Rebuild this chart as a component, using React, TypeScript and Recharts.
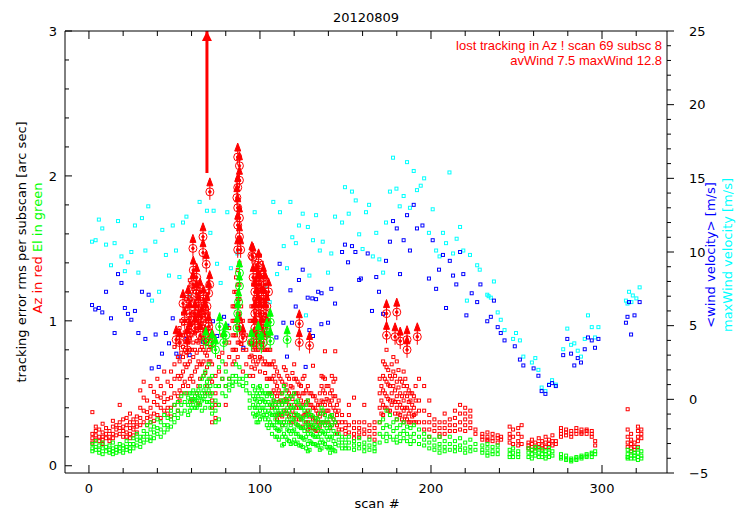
import React from "react";
import { ComposedChart, Scatter, XAxis, YAxis, ReferenceLine } from "recharts";

const W = 747;
const H = 525;

const RED = "#ff0000";
const GREEN = "#00ff00";
const BLUE = "#0000ff";
const CYAN = "#00ffff";

const title = "20120809";
const note1 = "lost tracking in Az ! scan 69 subsc 8";
const note2 = "avWind 7.5 maxWind 12.8";

const xTicks = [0, 20, 40, 60, 80, 100, 120, 140, 160, 180, 200, 220, 240, 260, 280, 300, 320];
const leftTicks = [0, 0.2, 0.4, 0.6, 0.8, 1, 1.2, 1.4, 1.6, 1.8, 2, 2.2, 2.4, 2.6, 2.8, 3];
const rightTicks = [
  -5, -4, -3, -2, -1, 0, 1, 2, 3, 4, 5, 6, 7, 8, 9, 10, 11, 12, 13, 14, 15,
  16, 17, 18, 19, 20, 21, 22, 23, 24, 25,
];

// Az rms per subscan, grouped by scan number
const azByScan: [number, number[]][] = [
  [2, [0.37, 0.22, 0.19, 0.16]], [4, [0.27, 0.24, 0.21, 0.18]], [6, [0.25, 0.2, 0.17]],
  [8, [0.29, 0.23, 0.2, 0.18, 0.15]], [10, [0.26, 0.22, 0.19]], [12, [0.24, 0.2, 0.17]],
  [14, [0.31, 0.27, 0.22, 0.19]], [16, [0.28, 0.25, 0.21]], [18, [0.42, 0.3, 0.26, 0.22]],
  [20, [0.32, 0.27, 0.24, 0.2]], [22, [0.33, 0.28, 0.23, 0.2]], [24, [0.36, 0.3, 0.26, 0.22, 0.19]],
  [26, [0.32, 0.28, 0.25, 0.21]], [28, [0.34, 0.3, 0.27, 0.23]], [30, [0.52, 0.4, 0.33, 0.28]],
  [32, [0.58, 0.47, 0.38, 0.3]], [34, [0.45, 0.37, 0.33, 0.28]], [36, [0.55, 0.4, 0.34, 0.3]],
  [38, [0.51, 0.44, 0.36, 0.31]], [40, [0.6, 0.48, 0.42, 0.35]], [42, [0.55, 0.47, 0.4, 0.33]],
  [44, [0.65, 0.5, 0.44, 0.38]], [46, [0.58, 0.46, 0.4, 0.36]], [48, [0.65, 0.55, 0.47, 0.4, 0.34]],
  [50, [0.82, 0.7, 0.6, 0.5, 0.42]], [52, [0.88, 0.75, 0.62, 0.48, 0.38]],
  [53, [0.95, 0.85, 0.72, 0.6, 0.52, 0.45]],
  [54, [1.0, 0.9, 0.78, 0.62, 0.5]], [55, [1.05, 0.98, 0.9, 0.82, 0.75, 0.65, 0.55]],
  [56, [1.1, 1.0, 0.92, 0.8, 0.7, 0.58]], [57, [1.15, 1.08, 1.0, 0.93, 0.86, 0.78, 0.68, 0.5]],
  [58, [1.2, 1.1, 1.0, 0.95, 0.85, 0.7, 0.55]], [59, [1.28, 1.18, 1.1, 1.02, 0.95, 0.88, 0.8, 0.72, 0.6]],
  [60, [1.25, 1.15, 1.05, 0.98, 0.9, 0.8, 0.62, 0.45]], [61, [1.32, 1.22, 1.14, 1.06, 0.99, 0.92, 0.85, 0.75, 0.58]],
  [62, [1.3, 1.2, 1.1, 1.02, 0.92, 0.8, 0.65]], [63, [1.25, 1.17, 1.08, 1.0, 0.93, 0.86, 0.78, 0.68, 0.5]],
  [64, [1.22, 1.12, 1.05, 0.95, 0.85, 0.72, 0.55, 0.43]], [65, [1.2, 1.1, 1.02, 0.95, 0.88, 0.8, 0.7, 0.6]],
  [66, [1.15, 1.05, 0.98, 0.9, 0.82, 0.7]], [67, [1.12, 1.04, 0.96, 0.88, 0.8, 0.72, 0.62]],
  [68, [1.1, 1.0, 0.92, 0.85, 0.78, 0.64, 0.5]], [69, [1.08, 1.0, 0.92, 0.84, 0.76, 0.68, 0.55]],
  [70, [1.05, 0.95, 0.88, 0.8, 0.72]], [71, [0.98, 0.9, 0.82, 0.72, 0.6, 0.5]],
  [72, [0.7, 0.58, 0.45, 0.4, 0.3]], [74, [0.62, 0.5, 0.42, 0.33]],
  [76, [0.75, 0.65, 0.55, 0.42]], [78, [0.9, 0.78, 0.6]], [80, [0.85, 0.7, 0.55, 0.42]],
  [82, [0.95, 0.85, 0.75, 0.6]], [84, [1.1, 1.0, 0.9, 0.8, 0.7]], [85, [1.2, 1.1, 1.0, 0.9, 0.8, 0.72]],
  [86, [1.3, 1.2, 1.1, 1.0, 0.9, 0.8]], [87, [1.35, 1.25, 1.15, 1.05, 0.95, 0.85, 0.75]],
  [88, [1.4, 1.25, 1.15, 1.05, 0.95, 0.85]], [89, [1.1, 1.0, 0.92, 0.84]],
  [90, [1.0, 0.9, 0.8, 0.65]], [92, [0.9, 0.8, 0.7]],
  [94, [1.0, 0.85, 0.75, 0.62]], [95, [1.1, 1.0, 0.92, 0.84, 0.76, 0.68]],
  [96, [1.25, 1.1, 1.0, 0.9, 0.8, 0.72, 0.62]], [97, [1.35, 1.25, 1.15, 1.07, 0.99, 0.91, 0.83, 0.75, 0.67]],
  [98, [1.4, 1.3, 1.2, 1.1, 1.0, 0.9, 0.8, 0.7]], [99, [1.45, 1.37, 1.28, 1.2, 1.12, 1.04, 0.96, 0.88, 0.8, 0.72]],
  [100, [1.45, 1.35, 1.25, 1.15, 1.05, 0.95, 0.85, 0.75, 0.65]],
  [101, [1.4, 1.3, 1.22, 1.14, 1.06, 0.98, 0.9, 0.82, 0.74]],
  [102, [1.3, 1.2, 1.1, 1.0, 0.9, 0.8, 0.7]], [103, [1.2, 1.12, 1.04, 0.96, 0.88, 0.8, 0.72, 0.64]],
  [104, [1.1, 1.0, 0.9, 0.8, 0.7, 0.6]], [105, [1.0, 0.9, 0.8, 0.7, 0.6, 0.5]],
  [106, [0.8, 0.7, 0.6, 0.5, 0.42]], [107, [0.7, 0.6, 0.5, 0.4]], [108, [0.72, 0.62, 0.52, 0.45]],
  [109, [0.68, 0.58, 0.5, 0.42, 0.35]], [110, [0.65, 0.55, 0.48, 0.4, 0.32]], [111, [0.62, 0.52, 0.44, 0.36]],
  [112, [0.6, 0.5, 0.45, 0.35]], [113, [0.58, 0.5, 0.42, 0.34, 0.28]], [114, [0.68, 0.55, 0.45, 0.38, 0.3]],
  [115, [0.66, 0.56, 0.46, 0.38]], [116, [0.62, 0.52, 0.45, 0.36]], [117, [0.6, 0.5, 0.42, 0.34]],
  [118, [0.55, 0.48, 0.4, 0.3]], [119, [0.64, 0.54, 0.46, 0.38, 0.3]], [120, [0.7, 0.6, 0.5, 0.42, 0.35]],
  [121, [0.6, 0.5, 0.4, 0.32]], [122, [0.58, 0.5, 0.42, 0.35, 0.28]], [123, [0.56, 0.48, 0.4, 0.32]],
  [124, [0.55, 0.45, 0.4, 0.32]], [125, [0.6, 0.5, 0.42, 0.34, 0.27]], [126, [0.62, 0.5, 0.42, 0.35]],
  [127, [0.52, 0.44, 0.36, 0.3]], [128, [0.55, 0.45, 0.38, 0.3, 0.25]], [129, [0.5, 0.42, 0.34, 0.27]],
  [130, [0.5, 0.42, 0.35, 0.28]], [131, [0.69, 0.48, 0.4, 0.32, 0.26]], [132, [0.48, 0.4, 0.33, 0.25]],
  [133, [0.45, 0.38, 0.3, 0.24]], [134, [0.42, 0.36, 0.3, 0.24]], [135, [0.5, 0.42, 0.34, 0.27]],
  [136, [0.62, 0.55, 0.45, 0.38, 0.3]], [137, [0.61, 0.52, 0.44, 0.36, 0.3]],
  [138, [0.79, 0.6, 0.5, 0.42, 0.35, 0.28]], [139, [0.55, 0.46, 0.38, 0.3]],
  [140, [0.55, 0.45, 0.38, 0.3]], [141, [0.5, 0.42, 0.34, 0.26]], [142, [0.62, 0.52, 0.45, 0.35, 0.28]],
  [143, [0.58, 0.48, 0.4, 0.32]], [144, [0.79, 0.6, 0.48, 0.38, 0.3]], [145, [0.42, 0.35, 0.28, 0.22]],
  [146, [0.45, 0.38, 0.3, 0.25]], [148, [0.35, 0.3, 0.25]], [150, [0.3, 0.26, 0.22]],
  [152, [0.42, 0.35, 0.28, 0.23]], [155, [0.47, 0.3, 0.26, 0.22, 0.19]], [158, [0.3, 0.26, 0.23, 0.2]],
  [161, [0.42, 0.3, 0.25, 0.22]], [164, [0.28, 0.24, 0.2]], [167, [0.3, 0.26, 0.22, 0.18]],
  [170, [0.6, 0.5, 0.4, 0.3]], [171, [0.55, 0.45, 0.36]], [172, [0.72, 0.62, 0.52, 0.42, 0.35]],
  [173, [0.7, 0.6, 0.5, 0.4]], [174, [0.8, 0.68, 0.58, 0.48, 0.4]], [175, [0.66, 0.56, 0.46, 0.38]],
  [176, [0.62, 0.55, 0.45, 0.38]], [177, [0.7, 0.6, 0.5, 0.42]], [178, [0.75, 0.65, 0.55, 0.45]],
  [179, [0.62, 0.52, 0.44, 0.36]], [180, [0.72, 0.58, 0.48, 0.4, 0.32]], [181, [0.66, 0.54, 0.44, 0.36]],
  [182, [0.6, 0.5, 0.42, 0.35]], [183, [0.58, 0.48, 0.4, 0.32]], [184, [0.65, 0.55, 0.45, 0.38, 0.3]],
  [185, [0.6, 0.5, 0.4, 0.34]], [186, [0.55, 0.48, 0.4, 0.32]], [187, [0.52, 0.44, 0.36, 0.3]],
  [188, [0.5, 0.45, 0.38, 0.3]], [189, [0.5, 0.42, 0.34]], [190, [0.48, 0.4, 0.35, 0.3]],
  [191, [0.55, 0.45, 0.36, 0.3]], [193, [0.6, 0.45, 0.38, 0.3]],
  [196, [0.55, 0.38, 0.3, 0.25]], [199, [0.45, 0.35, 0.3, 0.25, 0.2]], [202, [0.32, 0.28, 0.24]],
  [205, [0.3, 0.26, 0.22, 0.2]], [208, [0.36, 0.3, 0.26, 0.22]], [211, [0.32, 0.28, 0.24]],
  [214, [0.38, 0.33, 0.28, 0.24]], [217, [0.42, 0.36, 0.3, 0.25]], [220, [0.4, 0.36, 0.32, 0.28, 0.24]],
  [223, [0.38, 0.34, 0.3, 0.26]], [226, [0.25, 0.22]], [230, [0.22, 0.2, 0.18]],
  [233, [0.23, 0.2, 0.18, 0.17]], [236, [0.22, 0.19, 0.17]], [239, [0.21, 0.19, 0.16]], [241, [0.2, 0.18]],
  [246, [0.27, 0.22, 0.19, 0.16]], [248, [0.25, 0.2, 0.15]], [251, [0.26, 0.22, 0.17, 0.14]],
  [253, [0.28, 0.2, 0.15]], [257, [0.16, 0.14, 0.12]], [259, [0.18, 0.15, 0.13, 0.11]],
  [261, [0.16, 0.13, 0.12]], [263, [0.19, 0.15, 0.13]], [265, [0.17, 0.14, 0.12]], [267, [0.2, 0.16, 0.13]],
  [269, [0.18, 0.15, 0.13]], [271, [0.21, 0.17, 0.14]], [273, [0.17, 0.15]], [276, [0.26, 0.24, 0.22, 0.2]],
  [279, [0.25, 0.23, 0.21]], [282, [0.24, 0.22, 0.2]], [285, [0.26, 0.24, 0.22]], [288, [0.25, 0.23, 0.22]],
  [291, [0.25, 0.24, 0.22]], [294, [0.24, 0.22, 0.2]], [296, [0.17, 0.14]],
  [315, [0.39, 0.25, 0.2, 0.16, 0.13]], [317, [0.22, 0.18, 0.15, 0.12, 0.1]], [319, [0.16, 0.13, 0.11]],
  [321, [0.27, 0.24, 0.2, 0.17, 0.13]], [323, [0.25, 0.22, 0.19]],
];

// El rms per subscan, grouped by scan number
const elByScan: [number, number[]][] = [
  [2, [0.15, 0.12, 0.1]], [4, [0.17, 0.13, 0.11]], [6, [0.14, 0.11, 0.09]], [8, [0.16, 0.12, 0.08]],
  [10, [0.13, 0.1]], [12, [0.14, 0.11, 0.09]], [14, [0.16, 0.12, 0.1, 0.08]], [16, [0.13, 0.11, 0.09]],
  [18, [0.15, 0.12, 0.1]], [20, [0.14, 0.12, 0.09]], [22, [0.17, 0.13, 0.11]], [24, [0.15, 0.12, 0.1]],
  [26, [0.19, 0.15, 0.12]], [28, [0.22, 0.18, 0.14]], [30, [0.2, 0.17, 0.13]], [32, [0.24, 0.2, 0.16]],
  [34, [0.28, 0.22, 0.18]], [36, [0.3, 0.25, 0.2, 0.17]], [38, [0.27, 0.23, 0.19]], [40, [0.32, 0.26, 0.22]],
  [42, [0.3, 0.25, 0.2]], [44, [0.35, 0.28, 0.23]], [46, [0.33, 0.28, 0.25]], [48, [0.38, 0.32, 0.27]],
  [50, [0.42, 0.35, 0.3]], [52, [0.44, 0.38, 0.33]], [54, [0.48, 0.42, 0.36]], [56, [0.5, 0.44, 0.38]],
  [58, [0.47, 0.42, 0.35]], [59, [0.5, 0.44, 0.38]], [60, [0.5, 0.46, 0.4]], [61, [0.52, 0.46, 0.42]],
  [62, [0.48, 0.45, 0.4]], [63, [0.5, 0.45, 0.4]], [64, [0.52, 0.47, 0.42]], [65, [0.55, 0.48, 0.42]],
  [66, [0.6, 0.5, 0.45, 0.38]], [67, [0.62, 0.52, 0.46]], [68, [0.65, 0.55, 0.48, 0.4]],
  [69, [0.58, 0.5, 0.44]], [70, [0.7, 0.6, 0.52, 0.44]], [71, [0.55, 0.48, 0.4]],
  [72, [0.62, 0.5, 0.42, 0.36]], [74, [0.55, 0.45, 0.38, 0.3]], [76, [0.68, 0.55, 0.42, 0.32]],
  [78, [0.72, 0.6, 0.5]], [80, [0.65, 0.55, 0.48]], [82, [0.6, 0.56, 0.52]], [84, [0.62, 0.58, 0.55]],
  [86, [0.7, 0.62, 0.58]], [88, [0.68, 0.6, 0.56]], [90, [0.6, 0.55]], [92, [0.62, 0.57, 0.52]],
  [94, [0.5, 0.45, 0.4]], [96, [0.55, 0.48, 0.42, 0.36]], [97, [0.52, 0.46, 0.4, 0.34]],
  [98, [0.5, 0.45, 0.4, 0.35, 0.3]], [99, [0.54, 0.48, 0.42, 0.36, 0.3]],
  [100, [0.55, 0.5, 0.44, 0.38, 0.32]], [101, [0.52, 0.46, 0.4, 0.34]], [102, [0.5, 0.45, 0.4, 0.35]],
  [103, [0.5, 0.44, 0.38, 0.32]], [104, [0.55, 0.48, 0.42, 0.35, 0.28]], [105, [0.5, 0.44, 0.38, 0.32, 0.26]],
  [106, [0.5, 0.42, 0.36, 0.3]], [107, [0.48, 0.42, 0.35, 0.28, 0.22]], [108, [0.45, 0.4, 0.35, 0.28]],
  [109, [0.44, 0.38, 0.32, 0.26, 0.2]], [110, [0.4, 0.35, 0.3, 0.25, 0.2]],
  [111, [0.42, 0.36, 0.3, 0.24, 0.18]], [112, [0.45, 0.38, 0.3, 0.25]],
  [113, [0.5, 0.42, 0.35, 0.28, 0.2, 0.14]], [114, [0.55, 0.45, 0.38, 0.3, 0.22, 0.15]],
  [115, [0.52, 0.44, 0.36, 0.28, 0.2]], [116, [0.48, 0.4, 0.32, 0.25, 0.18]],
  [117, [0.46, 0.38, 0.3, 0.24, 0.17]], [118, [0.42, 0.35, 0.28, 0.22, 0.15]],
  [119, [0.48, 0.4, 0.32, 0.24, 0.16]], [120, [0.5, 0.4, 0.32, 0.25, 0.18]],
  [121, [0.44, 0.36, 0.29, 0.22, 0.15]], [122, [0.45, 0.35, 0.28, 0.22, 0.16]],
  [123, [0.42, 0.34, 0.27, 0.2, 0.14]], [124, [0.4, 0.32, 0.26, 0.2, 0.14]],
  [125, [0.4, 0.33, 0.26, 0.19, 0.13]], [126, [0.38, 0.3, 0.24, 0.18]],
  [127, [0.42, 0.34, 0.27, 0.2, 0.12]], [128, [0.45, 0.35, 0.28, 0.22, 0.15, 0.1]],
  [129, [0.38, 0.3, 0.24, 0.17, 0.11]], [130, [0.35, 0.28, 0.22, 0.16]], [131, [0.34, 0.27, 0.21, 0.15]],
  [132, [0.3, 0.25, 0.2, 0.15]], [133, [0.33, 0.27, 0.2, 0.14]], [134, [0.32, 0.26, 0.2, 0.14]],
  [135, [0.36, 0.28, 0.22, 0.16, 0.11]], [136, [0.4, 0.3, 0.24, 0.18, 0.12]],
  [137, [0.38, 0.3, 0.23, 0.16]], [138, [0.35, 0.28, 0.22, 0.15]], [139, [0.32, 0.26, 0.2, 0.13]],
  [140, [0.3, 0.24, 0.18, 0.12]], [141, [0.34, 0.27, 0.2, 0.13, 0.09]], [142, [0.35, 0.28, 0.2, 0.12]],
  [143, [0.32, 0.24, 0.17, 0.11]], [144, [0.3, 0.22, 0.15, 0.1]],
  [146, [0.22, 0.18, 0.14]], [148, [0.2, 0.16, 0.12]], [150, [0.18, 0.14, 0.12]], [152, [0.2, 0.16, 0.12]],
  [155, [0.17, 0.14, 0.11]], [158, [0.19, 0.15, 0.12]], [161, [0.16, 0.13, 0.1]], [164, [0.18, 0.14, 0.11]],
  [167, [0.15, 0.12, 0.1]], [170, [0.3, 0.22, 0.16]], [172, [0.32, 0.26, 0.2]], [174, [0.38, 0.28, 0.22, 0.17]],
  [176, [0.35, 0.27, 0.2]], [178, [0.3, 0.24, 0.18]], [180, [0.32, 0.26, 0.2, 0.16]], [182, [0.28, 0.22, 0.17]],
  [184, [0.3, 0.24, 0.19]], [186, [0.27, 0.22, 0.17]], [188, [0.26, 0.2, 0.15]], [190, [0.28, 0.22, 0.17]],
  [193, [0.25, 0.2, 0.15]], [196, [0.22, 0.18, 0.14]], [199, [0.2, 0.16, 0.12]], [202, [0.18, 0.14, 0.11]],
  [205, [0.2, 0.15, 0.12, 0.09]], [208, [0.17, 0.13, 0.1]], [211, [0.2, 0.15, 0.11]], [214, [0.17, 0.13, 0.1]],
  [217, [0.19, 0.14, 0.11]], [220, [0.16, 0.12, 0.09]], [223, [0.18, 0.13, 0.1]], [226, [0.15, 0.11]],
  [230, [0.14, 0.11, 0.09]], [233, [0.15, 0.12, 0.09, 0.07]], [236, [0.13, 0.1, 0.08]], [239, [0.14, 0.11, 0.08]],
  [246, [0.11, 0.08, 0.06]], [248, [0.12, 0.09, 0.06]], [251, [0.1, 0.08, 0.06]], [257, [0.12, 0.09, 0.06]],
  [259, [0.11, 0.08, 0.05]], [261, [0.13, 0.1, 0.07]], [263, [0.12, 0.09, 0.06]], [265, [0.11, 0.08, 0.06]],
  [267, [0.1, 0.08, 0.05]], [269, [0.12, 0.09, 0.06]], [271, [0.1, 0.07]], [276, [0.08, 0.06, 0.05]],
  [279, [0.07, 0.05, 0.04]], [282, [0.05, 0.04, 0.03]], [285, [0.06, 0.05, 0.04]], [288, [0.07, 0.06, 0.05]],
  [291, [0.08, 0.07, 0.06]], [294, [0.09, 0.08, 0.06]], [296, [0.1, 0.08]], [315, [0.11, 0.08, 0.06, 0.05]],
  [317, [0.1, 0.07, 0.05]], [319, [0.09, 0.07, 0.05]], [321, [0.12, 0.09, 0.06, 0.04]], [323, [0.1, 0.07, 0.05]],
];

// subscans flagged as lost tracking (scan, rms)
const azFlagged: [number, number][] = [
  [51, 0.87], [53, 0.85], [55, 1.12], [56, 1.0], [57.5, 0.87], [57.5, 0.8], [58, 1.15], [59, 1.05],
  [59, 0.92], [60.8, 1.5], [60.8, 1.25], [61, 1.35], [62, 1.05], [62.8, 1.19], [62, 0.95], [63, 1.3],
  [64, 1.1], [64, 0.98], [65, 0.9], [65, 1.2], [66, 1.02], [66.7, 1.58], [66.7, 1.47], [67, 1.15],
  [68.6, 1.39], [68, 1.05], [68, 0.88], [69, 1.1], [70.6, 1.25], [70.7, 1.89], [70, 0.96], [70, 1.19],
  [72, 0.85], [86.5, 1.85], [87, 2.13], [87, 1.92], [87, 1.78], [87, 1.66], [87, 1.49], [88, 2.07],
  [88, 1.97], [88, 1.71], [88, 1.58], [88.7, 1.49], [88, 0.96], [90, 0.88], [95.3, 1.45], [95.9, 1.44],
  [96, 1.3], [96, 0.85], [97, 1.2], [97, 0.95], [97, 1.05], [98, 1.3], [98, 1.15], [98, 0.85],
  [99.2, 1.4], [99, 1.1], [99, 1.25], [100, 1.25], [100, 0.9], [100, 1.05], [101, 1.15], [101, 0.95],
  [102, 1.3], [102, 1.15], [102, 0.85], [103, 1.05], [103, 1.25], [104, 0.95], [104, 1.1], [105, 1.2],
  [123, 0.98], [123, 0.85], [129, 0.83], [174, 1.05], [180, 1.06], [174, 0.9], [179, 0.89], [182, 0.86],
  [186, 0.87], [186, 0.8], [192, 0.89],
];
const elFlagged: [number, number][] = [
  [68.3, 0.86], [72, 0.84], [74, 0.8], [76.4, 0.96], [78.8, 0.85], [80, 0.9], [86.6, 0.95], [87, 1.05],
  [87.5, 1.13], [88, 1.24], [88, 1.33], [95, 0.85], [99, 0.9], [100.8, 0.83], [106, 0.99], [106, 0.86],
  [104, 0.92], [115.9, 0.87],
];

// lost tracking arrow, scan 69
const lostScan = 69;
const lostFrom = 2.02;
const lostTo = 3;

// <wind velocity> per scan (m/s)
const avWind: [number, number][] = [
  [1.8, 6.4], [3.7, 6.1], [5.8, 6.2], [7.8, 5.9], [10, 7.3], [12.9, 5.5], [15, 4.5], [17, 8.5], [19, 7.9],
  [21, 6.2], [22.8, 5.8], [24.8, 5.4], [26.9, 6.0], [28.9, 4.5], [31, 7.3], [33, 4.1], [34.9, 7.1],
  [36.7, 2.1], [39, 4.4], [40.8, 2.2], [42.7, 3.1], [45, 4.5], [46.8, 3.8], [49, 5.5], [51.1, 3.1],
  [53, 2.9], [57, 4.1], [58.9, 3.0], [66.7, 3.9], [72.5, 5.3], [75, 4.3], [79, 5.6], [80.9, 5.0],
  [90.3, 3.5], [95.5, 3.8], [109.6, 4.2], [111.5, 9.2], [113.7, 5.2], [115.8, 2.9], [117.8, 7.4],
  [118.7, 5.2], [120.9, 6.3], [122.8, 8.1], [125, 8.8], [126.7, 2.2], [127.9, 6.9], [128.9, 4.7],
  [130.6, 6.85], [131, 4.3], [132.8, 6.8], [134, 7.3], [136, 7.2], [135.9, 5.1], [139.8, 5.2],
  [141.7, 7.5], [143.9, 6.5], [148, 10.0], [149.7, 10.5], [151.5, 9.3], [153.8, 10.4], [155.8, 10.0],
  [158, 8.1], [159, 8.2], [163, 9.9], [165.5, 6.0], [168, 8.3], [169.6, 7.3], [172, 5.8], [173.7, 9.4],
  [176, 10.7], [177.8, 12.1], [180, 11.6], [181.9, 8.5], [184, 10.8], [186, 12.5], [187.7, 10.1],
  [189.9, 13.2], [191.8, 11.6], [195, 11.8], [198.8, 8.2], [201, 10.8], [203, 7.5], [204.7, 8.8],
  [207, 9.8], [208.8, 6.2], [211, 9.4], [212.9, 8.4], [214.8, 7.8], [217, 10.0], [218.9, 8.5],
  [220.7, 5.7], [223.8, 7.2], [227, 6.6], [228.9, 7.8], [232.9, 5.3], [235, 5.6], [236.8, 6.7],
  [239, 4.9], [240.8, 4.5], [243, 4.0], [249, 3.6], [252, 2.7], [254, 2.3], [260, 2.1], [262.8, 1.6],
  [264.7, 0.56], [266.9, 0.37], [269, 0.97], [270.8, 1.1], [273, 0.9], [277.3, 3.0], [279.7, 4.1],
  [281.9, 3.1], [283.8, 2.3], [285.8, 2.8], [287.7, 2.5], [289.9, 3.4], [291.8, 4.2], [294, 4.0],
  [295.9, 3.5], [297.9, 4.1], [314, 5.2], [314.9, 5.6], [315.8, 6.6], [317, 4.4], [319, 5.7], [322, 6.6],
];

// maxWind velocity per scan (m/s)
const maxWind: [number, number][] = [
  [1.8, 10.7], [3.9, 10.8], [5.8, 12.2], [7.8, 11.6], [10, 10.5], [12.9, 9.1], [15, 10.6], [17, 12.1],
  [19, 9.7], [21, 8.7], [22.8, 9.3], [24.8, 10.0], [26.9, 11.8], [28.9, 8.6], [31, 12.3], [33, 10.1],
  [34.7, 13.1], [36.9, 6.7], [38.8, 10.7], [41, 7.3], [42.9, 11.5], [45, 9.8], [46.8, 8.4], [49, 11.8],
  [50.9, 10.1], [52.9, 8.3], [55, 12.0], [57, 12.4], [58.7, 7.0], [64.7, 13.4], [69, 12.8], [71, 11.3],
  [72.9, 12.8], [74.9, 9.2], [77, 7.9], [80.9, 12.7], [83, 8.9], [86.8, 9.9], [96.9, 12.7], [103.2, 7.7],
  [105.7, 6.6], [107.8, 13.4], [110, 8.5], [111.7, 12.7], [113.9, 10.4], [115.8, 8.9], [117.8, 13.4],
  [118.9, 11.0], [121, 10.6], [122.8, 11.8], [125, 12.6], [126.9, 5.7], [128, 11.7], [128.9, 8.4],
  [131, 10.8], [132.8, 12.5], [135, 10.1], [136.7, 10.7], [139.8, 8.6], [141.7, 9.9], [143.9, 12.4],
  [148, 12.0], [149.7, 14.4], [151.9, 12.6], [153.8, 14.1], [156, 13.5], [158, 11.2], [160, 10.2],
  [162, 12.7], [163.8, 13.2], [166, 9.7], [168, 11.3], [169.8, 9.5], [172, 8.6], [173.7, 12.0],
  [176, 14.1], [177.8, 16.4], [179.8, 14.3], [181.7, 13.1], [184, 13.8], [186, 16.1], [187.7, 13.0],
  [189.9, 15.5], [191.8, 14.2], [194, 14.5], [196, 15.0], [198.8, 11.3], [201, 12.9], [203, 10.1],
  [205, 9.7], [207, 11.3], [208.8, 10.6], [210.8, 15.4], [212.9, 9.9], [215, 10.9], [217, 11.7],
  [218.9, 10.1], [221, 6.7], [222.8, 9.8], [227, 9.1], [228.5, 8.8], [232.9, 7.1], [233.7, 7.0],
  [235, 6.9], [236.8, 8.0], [239, 5.9], [240.8, 5.4], [243, 4.7], [248, 4.1], [249.7, 4.5], [252, 4.0],
  [254, 2.9], [259, 2.5], [261, 2.8], [262.8, 2.0], [264.7, 0.8], [266.9, 0.56], [269, 1.0], [270.8, 1.3],
  [273, 1.0], [277.3, 3.4], [279.7, 4.8], [281.9, 3.7], [283.8, 3.8], [285.8, 3.3], [287.7, 2.9],
  [289.9, 4.1], [291.8, 5.7], [294, 4.9], [295.9, 4.2], [297.9, 4.9], [314, 6.7], [314.9, 6.5],
  [315.8, 7.3], [317.2, 6.6], [318, 7.05], [320.1, 6.85], [322, 7.6],
];

const flatten = (groups: [number, number[]][]) =>
  groups.flatMap(([x, ys]) => ys.map((y) => ({ x, y })));
const toPts = (pairs: [number, number][]) => pairs.map(([x, y]) => ({ x, y }));

const azPts = flatten(azByScan);
const elPts = flatten(elByScan);
const azFlagPts = toPts(azFlagged);
const elFlagPts = toPts(elFlagged);
const avPts = toPts(avWind);
const maxPts = toPts(maxWind);

const NUM_FONT = "DejaVu Sans, sans-serif";

const square = (color: string) => (p: any) =>
  p.cx == null ? <g /> : (
    <rect x={p.cx - 1.5} y={p.cy - 1.5} width={3} height={3} fill="none" stroke={color} strokeWidth={1} />
  );

const flagMark = (color: string) => (p: any) => {
  if (p.cx == null) return <g />;
  const { cx, cy } = p;
  return (
    <g stroke={color} strokeWidth={1} fill="none">
      <circle cx={cx} cy={cy} r={4} />
      <circle cx={cx} cy={cy} r={1.3} fill={color} />
      <line x1={cx} y1={cy + 8} x2={cx} y2={cy - 8} />
      <path d={`M${cx} ${cy - 14} L${cx - 3} ${cy - 6} L${cx + 3} ${cy - 6} Z`} fill={color} />
    </g>
  );
};

const arrowHead = (p: any) => {
  if (p.cx == null) return <g />;
  const { cx, cy } = p;
  return <path d={`M${cx} ${cy} L${cx - 5} ${cy + 10} L${cx + 5} ${cy + 10} Z`} fill={RED} />;
};

const BottomTick = (p: any) => {
  const v = p.payload.value;
  const major = v % 100 === 0;
  return (
    <g>
      <line x1={p.x} y1={p.y} x2={p.x} y2={p.y - (major ? 8 : 5)} stroke="#000" />
      {major && (
        <text x={p.x} y={p.y + 20} textAnchor="middle" fontFamily={NUM_FONT} fontSize={13} fill="#000">
          {v}
        </text>
      )}
    </g>
  );
};

const TopTick = (p: any) => {
  const major = p.payload.value % 100 === 0;
  return <line x1={p.x} y1={p.y} x2={p.x} y2={p.y + (major ? 8 : 5)} stroke="#000" />;
};

const LeftTick = (p: any) => {
  const v = p.payload.value;
  const major = Number.isInteger(v);
  return (
    <g>
      <line x1={p.x} y1={p.y} x2={p.x + (major ? 7 : 4)} y2={p.y} stroke="#000" />
      {major && (
        <text x={p.x - 8} y={p.y} dy="0.36em" textAnchor="end" fontFamily={NUM_FONT} fontSize={13} fill="#000">
          {v}
        </text>
      )}
    </g>
  );
};

const RightTick = (p: any) => {
  const v = p.payload.value;
  const major = v % 5 === 0;
  return (
    <g>
      <line x1={p.x} y1={p.y} x2={p.x + (major ? 7 : 4)} y2={p.y} stroke="#000" />
      {major && (
        <text x={p.x + 22} y={p.y} dy="0.36em" textAnchor="start" fontFamily={NUM_FONT} fontSize={13} fill="#000">
          {v < 0 ? `\u2212${-v}` : v}
        </text>
      )}
    </g>
  );
};

const labelStyle: React.CSSProperties = {
  position: "absolute",
  whiteSpace: "nowrap",
  fontFamily: NUM_FONT,
  fontSize: 13,
  lineHeight: "14px",
};

const vLabel = (x: number, y: number): React.CSSProperties => ({
  ...labelStyle,
  left: x,
  top: y,
  transform: "translate(-50%, -50%) rotate(-90deg)",
});

export default function App() {
  return (
    <div style={{ position: "absolute", left: 0, top: 0, width: W, height: H, background: "#fff" }}>
      <ComposedChart width={W} height={H} margin={{ top: 0, right: 0, bottom: 0, left: 0 }}>
        <XAxis
          xAxisId="b"
          type="number"
          dataKey="x"
          domain={[-14, 338]}
          allowDataOverflow
          ticks={xTicks}
          interval={0}
          height={52}
          tickSize={0}
          tickMargin={0}
          tickLine={false}
          tick={BottomTick}
          axisLine={{ stroke: "#000" }}
        />
        <XAxis
          xAxisId="t"
          orientation="top"
          type="number"
          dataKey="x"
          domain={[-14, 338]}
          allowDataOverflow
          ticks={xTicks}
          interval={0}
          height={31}
          tickSize={0}
          tickMargin={0}
          tickLine={false}
          tick={TopTick}
          axisLine={{ stroke: "#000" }}
        />
        <YAxis
          yAxisId="l"
          type="number"
          dataKey="y"
          domain={[-0.05, 3]}
          allowDataOverflow
          ticks={leftTicks}
          interval={0}
          width={65}
          tickSize={0}
          tickMargin={0}
          tickLine={false}
          tick={LeftTick}
          axisLine={{ stroke: "#000" }}
        />
        <YAxis
          yAxisId="r"
          orientation="right"
          type="number"
          dataKey="y"
          domain={[-5, 25]}
          allowDataOverflow
          ticks={rightTicks}
          interval={0}
          width={80}
          tickSize={0}
          tickMargin={0}
          tickLine={false}
          tick={RightTick}
          axisLine={{ stroke: "#000" }}
        />
        <Scatter xAxisId="b" yAxisId="r" data={maxPts} shape={square(CYAN)} isAnimationActive={false} />
        <Scatter xAxisId="b" yAxisId="r" data={avPts} shape={square(BLUE)} isAnimationActive={false} />
        <Scatter xAxisId="b" yAxisId="l" data={azPts} shape={square(RED)} isAnimationActive={false} />
        <Scatter xAxisId="b" yAxisId="l" data={azFlagPts} shape={flagMark(RED)} isAnimationActive={false} />
        <Scatter xAxisId="b" yAxisId="l" data={elPts} shape={square(GREEN)} isAnimationActive={false} />
        <Scatter xAxisId="b" yAxisId="l" data={elFlagPts} shape={flagMark(GREEN)} isAnimationActive={false} />
        <ReferenceLine
          xAxisId="b"
          yAxisId="l"
          segment={[{ x: lostScan, y: lostFrom }, { x: lostScan, y: lostTo }]}
          stroke={RED}
          strokeWidth={3}
          ifOverflow="visible"
        />
        <Scatter
          xAxisId="b"
          yAxisId="l"
          data={[{ x: lostScan, y: lostTo }]}
          shape={arrowHead}
          isAnimationActive={false}
        />
      </ComposedChart>

      <div style={{ ...labelStyle, left: 366, top: 11, transform: "translateX(-50%)" }}>{title}</div>
      <div
        style={{
          ...labelStyle,
          fontFamily: "Liberation Sans, sans-serif",
          right: W - 662,
          top: 38,
          color: RED,
          textAlign: "right",
          lineHeight: "15px",
        }}
      >
        {note1}
        <br />
        {note2}
      </div>
      <div style={{ ...labelStyle, left: 377, top: 497, transform: "translateX(-50%)" }}>scan #</div>
      <div style={vLabel(22, 252)}>tracking error rms per subscan [arc sec]</div>
      <div style={vLabel(38, 248)}>
        <span style={{ color: RED }}>Az in red</span> <span style={{ color: GREEN }}>El in green</span>
      </div>
      <div style={{ ...vLabel(711, 255), color: BLUE }}>&lt;wind velocity&gt; [m/s]</div>
      <div style={{ ...vLabel(728, 255), color: CYAN }}>maxWind velocity [m/s]</div>
    </div>
  );
}
